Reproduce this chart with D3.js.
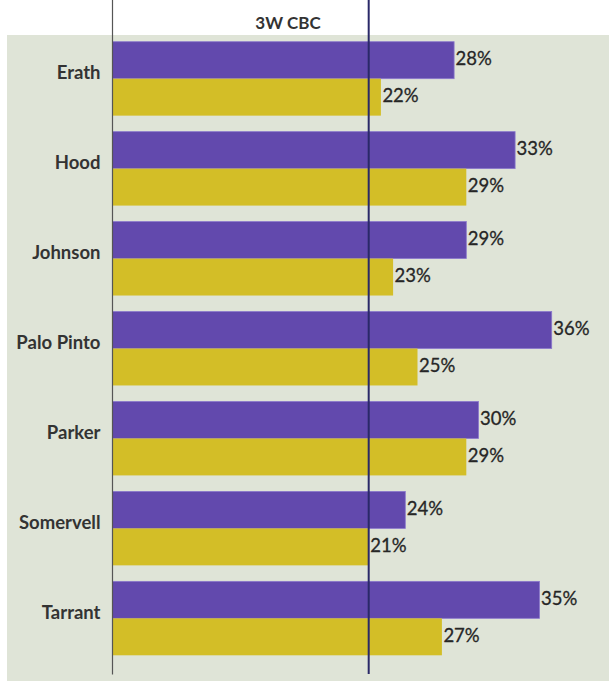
<!DOCTYPE html>
<html>
<head>
<meta charset="utf-8">
<script src="https://cdn.jsdelivr.net/npm/d3@7"></script>
<style>
  html, body { margin: 0; padding: 0; background: #ffffff; }
  svg { display: block; }
  text { font-family: Lato, "Open Sans", sans-serif; fill: #333333; }
</style>
</head>
<body>
<svg id="chart" width="609" height="681"></svg>
<script>
// County shares (percent)
const counties = ["Erath", "Hood", "Johnson", "Palo Pinto", "Parker", "Somervell", "Tarrant"];
const purpleValues = [28, 33, 29, 36, 30, 24, 35];
const yellowValues = [22, 29, 23, 25, 29, 21, 27];
const benchmarkLabel = "3W CBC";
const benchmarkValue = 21;

const W = 609, H = 681;
const svg = d3.select("#chart");

const colors = { purple: "#6249AD", yellow: "#D3BE27", panel: "#DFE4D7", bench: "#2A2968", axis: "#555555" };

const axisX = 112.5;
const x = d3.scaleLinear().domain([0, 40]).range([axisX, axisX + 40 * 12.2]);

const y = d3.scaleBand()
  .domain(counties)
  .range([33.7, 663.3])
  .paddingInner(0.178)
  .paddingOuter(0.089);

const series = [
  { key: "purple", values: purpleValues },
  { key: "yellow", values: yellowValues }
];
const ySub = d3.scaleBand().domain(series.map(s => s.key)).range([0, y.bandwidth()]);

// background panel
svg.append("rect")
  .attr("x", 7).attr("y", 35)
  .attr("width", W - 7).attr("height", H - 35)
  .attr("fill", colors.panel);

// bars
const groups = svg.append("g").selectAll("g")
  .data(counties)
  .join("g")
  .attr("transform", d => `translate(0,${y(d)})`);

groups.selectAll("rect")
  .data((d, i) => series.map(s => ({ key: s.key, value: s.values[i] })))
  .join("rect")
  .attr("x", x(0))
  .attr("y", d => ySub(d.key))
  .attr("width", d => x(d.value) - x(0))
  .attr("height", ySub.bandwidth())
  .attr("fill", d => colors[d.key])
  .attr("stroke", d => d.key === "purple" ? "#8A78CC" : "none")
  .attr("stroke-width", 0.8);

groups.selectAll("text.value")
  .data((d, i) => series.map(s => ({ key: s.key, value: s.values[i] })))
  .join("text")
  .attr("class", "value")
  .attr("x", d => x(d.value) + 1.5)
  .attr("y", d => ySub(d.key) + ySub.bandwidth() / 2 + 5.2)
  .attr("font-size", 18.5)
  .style("fill", "#262626")
  .style("stroke", "#262626")
  .style("stroke-width", 0.3)
  .text(d => d.value + "%");

// category axis
const yAxis = d3.axisLeft(y).tickSize(0).tickPadding(12);
const gAxis = svg.append("g")
  .attr("transform", `translate(${axisX},0)`)
  .call(yAxis);
gAxis.select(".domain").remove();
gAxis.selectAll("text")
  .attr("font-family", "Lato, 'Open Sans', sans-serif")
  .attr("font-size", 18.5)
  .attr("font-weight", 700)
  .attr("fill", "#333333")
  .attr("dy", "0.04em");

svg.append("line")
  .attr("x1", axisX).attr("x2", axisX)
  .attr("y1", 0).attr("y2", 674.5)
  .attr("stroke", colors.axis)
  .attr("stroke-width", 1.2);

// benchmark line
const bx = x(benchmarkValue);
svg.append("line")
  .attr("x1", bx).attr("x2", bx)
  .attr("y1", 0).attr("y2", 674)
  .attr("stroke", colors.bench)
  .attr("stroke-width", 2);

svg.append("text")
  .attr("x", 288)
  .attr("y", 29.3)
  .attr("text-anchor", "middle")
  .attr("font-size", 17)
  .attr("font-weight", 700)
  .text(benchmarkLabel);
</script>
</body>
</html>
